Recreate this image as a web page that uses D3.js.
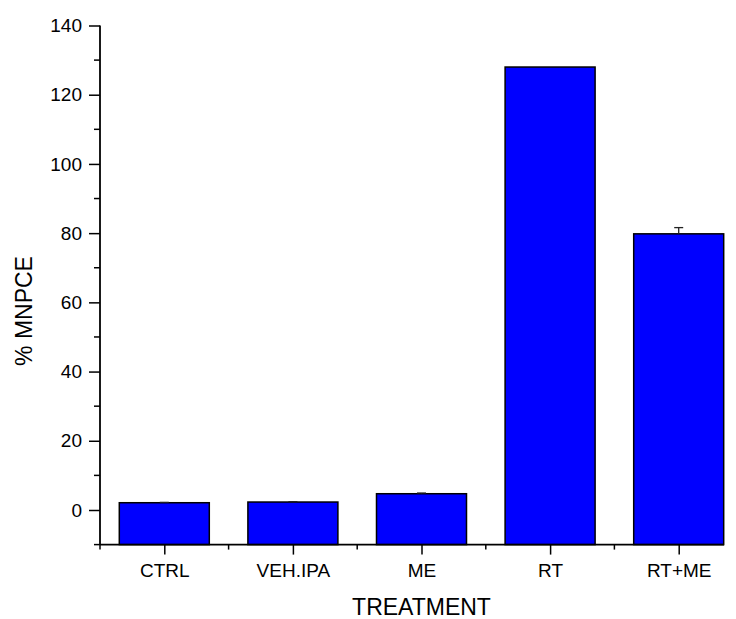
<!DOCTYPE html>
<html>
<head>
<meta charset="utf-8">
<script src="https://cdn.jsdelivr.net/npm/d3@7"></script>
<style>
  body { margin: 0; background: #fff; }
  svg { display: block; }
</style>
</head>
<body>
<div id="chart"></div>
<script>
// values
const categories = ['CTRL', 'VEH.IPA', 'ME', 'RT', 'RT+ME']
const means = [2.1, 2.3, 4.7, 128, 79.8]
const errors = [0.1, 0.1, 0.2, 0, 1.8]
const yTicks = [0, 20, 40, 60, 80, 100, 120, 140]
const yMinor = [-10, 10, 30, 50, 70, 90, 110, 130]

const W = 736
const H = 619
const font = '"Liberation Sans", Arial, sans-serif'

const svg = d3.select('#chart')
  .append('svg')
  .attr('width', W)
  .attr('height', H)
  .style('font-family', font)

// x is a linear scale over category positions 1..5
let x = d3.scaleLinear().domain([0.5, 5.5]).range([100, 743])
let y = d3.scaleLinear().domain([-10, 140]).range([544.6, 25.5])

const axisRight = 724
const barW = 90

// bars
svg.selectAll('.bar')
  .data(means)
  .enter().append('rect')
  .attr('class', 'bar')
  .attr('x', (d, i) => x(i + 1) - barW / 2)
  .attr('y', d => y(d))
  .attr('width', barW)
  .attr('height', d => y(-10) - y(d))
  .attr('fill', '#0000ff')
  .attr('stroke', '#000')
  .attr('stroke-width', 1.5)

// error bars, upper half only shows above the bar
const err = svg.append('g').attr('stroke', '#222').attr('stroke-width', 1.3)
means.forEach((m, i) => {
  if (!errors[i]) return
  const cx = x(i + 1)
  err.append('line')
    .attr('x1', cx).attr('x2', cx)
    .attr('y1', y(m)).attr('y2', y(m + errors[i]))
  err.append('line')
    .attr('x1', cx - 4.5).attr('x2', cx + 4.5)
    .attr('y1', y(m + errors[i])).attr('y2', y(m + errors[i]))
})

// y axis
const gy = svg.append('g')
  .attr('transform', 'translate(100,0)')
  .call(d3.axisLeft(y).tickValues(yTicks).tickSize(11).tickPadding(7).tickFormat(d3.format('d')))
gy.select('.domain').remove()
gy.selectAll('.tick line').attr('stroke-width', 1.5)
gy.selectAll('.tick text').attr('font-size', 19).attr('fill', '#000').attr('font-family', font)

svg.append('g')
  .attr('transform', 'translate(100,0)')
  .selectAll('line')
  .data(yMinor)
  .enter().append('line')
  .attr('x1', -6).attr('x2', 0)
  .attr('y1', d => y(d)).attr('y2', d => y(d))
  .attr('stroke', '#000').attr('stroke-width', 1.5)

svg.append('line')
  .attr('x1', 100).attr('x2', 100)
  .attr('y1', y(140)).attr('y2', y(-10))
  .attr('stroke', '#000').attr('stroke-width', 1.8)

// x axis
const gx = svg.append('g')
  .attr('transform', 'translate(0,' + y(-10) + ')')
  .call(d3.axisBottom(x).tickValues([1, 2, 3, 4, 5]).tickSize(10).tickPadding(9)
    .tickFormat(d => categories[d - 1]))
gx.select('.domain').remove()
gx.selectAll('.tick line').attr('stroke-width', 1.5)
gx.selectAll('.tick text').attr('font-size', 19).attr('fill', '#000').attr('font-family', font)

svg.append('g')
  .attr('transform', 'translate(0,' + y(-10) + ')')
  .selectAll('line')
  .data([0.5, 1.5, 2.5, 3.5, 4.5])
  .enter().append('line')
  .attr('x1', d => x(d)).attr('x2', d => x(d))
  .attr('y1', 0).attr('y2', 5)
  .attr('stroke', '#000').attr('stroke-width', 1.5)

svg.append('line')
  .attr('x1', 100).attr('x2', axisRight)
  .attr('y1', y(-10)).attr('y2', y(-10))
  .attr('stroke', '#000').attr('stroke-width', 1.8)

// axis titles
svg.append('text')
  .attr('x', x(3))
  .attr('y', 615)
  .attr('text-anchor', 'middle')
  .attr('font-size', 23)
  .text('TREATMENT')

svg.append('text')
  .attr('transform', 'translate(32,311) rotate(-90)')
  .attr('text-anchor', 'middle')
  .attr('font-size', 23)
  .text('% MNPCE')
</script>
</body>
</html>
